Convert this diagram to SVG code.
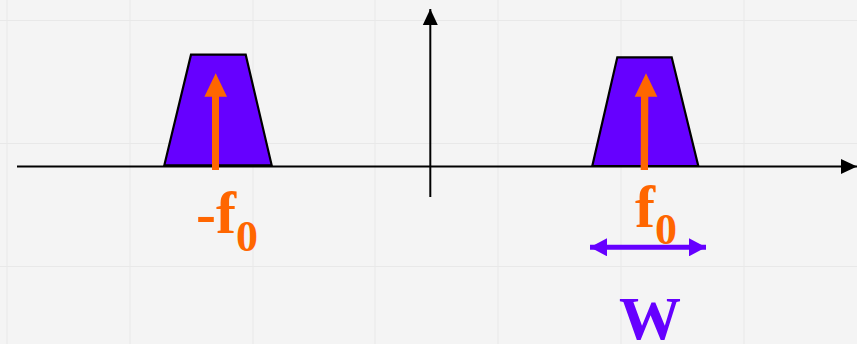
<svg xmlns="http://www.w3.org/2000/svg" width="857" height="344" viewBox="0 0 857 344">
<style>
.grid{stroke:#e8e8e8;stroke-width:1}
.axis{stroke:#000;stroke-width:2;fill:none}
.band{fill:#6600ff;stroke:#000;stroke-width:2.2;stroke-linejoin:miter}
.orange{fill:#ff6600}
.lbl{font-family:"Liberation Serif","Times New Roman",serif;font-weight:bold}
</style>
<defs>
<marker id="blk" markerWidth="16" markerHeight="16" refX="16" refY="8" orient="auto" markerUnits="userSpaceOnUse" viewBox="0 0 16 16">
<path d="M0,0.5 L16,8 L0,15.5 Z" fill="#000"/>
</marker>
<marker id="pur" markerWidth="18" markerHeight="18" refX="17" refY="9" orient="auto-start-reverse" markerUnits="userSpaceOnUse" viewBox="0 0 18 18">
<path d="M0,0 L17,9 L0,18 Z" fill="#6600ff"/>
</marker>
</defs>
<rect width="857" height="344" fill="#f4f4f4"/>
<g id="grid">
<line class="grid" x1="7" y1="0" x2="7" y2="344"/>
<line class="grid" x1="130" y1="0" x2="130" y2="344"/>
<line class="grid" x1="253" y1="0" x2="253" y2="344"/>
<line class="grid" x1="375" y1="0" x2="375" y2="344"/>
<line class="grid" x1="498" y1="0" x2="498" y2="344"/>
<line class="grid" x1="621" y1="0" x2="621" y2="344"/>
<line class="grid" x1="744" y1="0" x2="744" y2="344"/>
<line class="grid" x1="0" y1="20.5" x2="857" y2="20.5"/>
<line class="grid" x1="0" y1="143.5" x2="857" y2="143.5"/>
<line class="grid" x1="0" y1="266.5" x2="857" y2="266.5"/>
</g>
<g id="band-left">
<polygon class="band" points="191,54.7 245.7,54.7 271.7,165.3 164.3,165.3"/>
</g>
<g id="band-right">
<polygon class="band" points="617.3,57.3 671.7,57.3 698.3,166 592.3,166"/>
</g>
<g id="connectors">
<line class="axis" x1="17" y1="166.5" x2="857" y2="166.5" marker-end="url(#blk)"/>
<line class="axis" x1="430.3" y1="197" x2="430.3" y2="9" marker-end="url(#blk)"/>
<line x1="590" y1="247.3" x2="706" y2="247.3" stroke="#6600ff" stroke-width="5" marker-start="url(#pur)" marker-end="url(#pur)"/>
</g>
<g id="impulse-left">
<rect class="orange" x="212" y="95" width="7" height="75"/>
<polygon class="orange" points="215.7,73.3 227,96.7 204.4,96.7"/>
</g>
<g id="impulse-right">
<polygon class="orange" points="641,95 648.3,95 648,170 640.7,170"/>
<polygon class="orange" points="646,73.3 657.3,96.7 634.7,96.7"/>
</g>
<g id="label-neg-f0">
<text class="lbl" x="196" y="233" font-size="60" fill="#ff6600">-f<tspan font-size="44" dy="18">0</tspan></text>
</g>
<g id="label-f0">
<text class="lbl" x="635" y="226.7" font-size="60" fill="#ff6600">f<tspan font-size="44" dy="17">0</tspan></text>
</g>
<g id="label-w">
<text class="lbl" x="619" y="339" font-size="62" fill="#6600ff">W</text>
</g>
</svg>
